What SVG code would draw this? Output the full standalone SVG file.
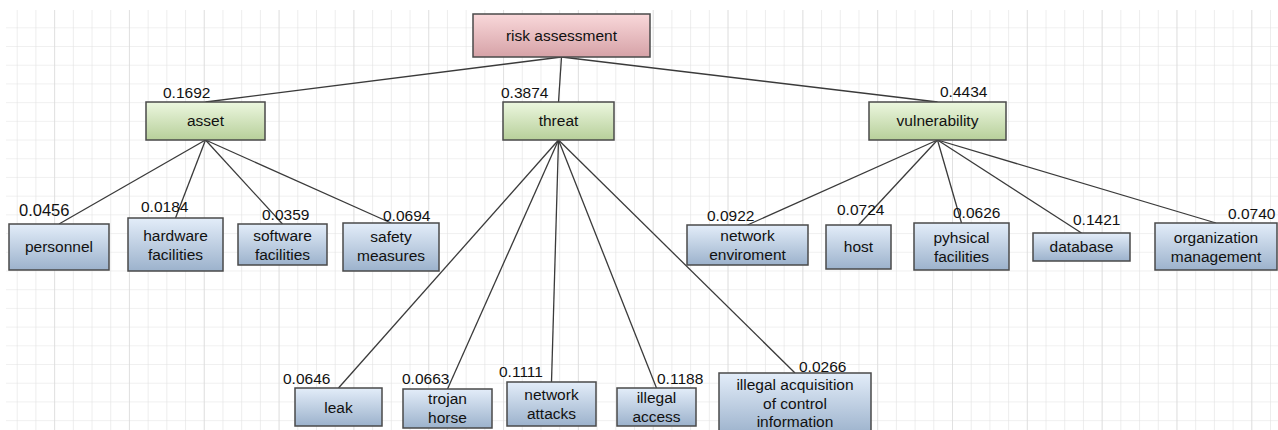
<svg xmlns="http://www.w3.org/2000/svg" width="1278" height="430" viewBox="0 0 1278 430">
<defs>
<pattern id="grid" patternUnits="userSpaceOnUse" x="-2" y="8.6" width="18.706" height="18.706">
<path d="M0 0V18.706M0 0H18.706" stroke="#e2e2e2" stroke-width="1.2" fill="none"/>
</pattern>
<pattern id="gridMajor" patternUnits="userSpaceOnUse" x="54.1" y="8.6" width="74.824" height="430">
<path d="M0 0V430" stroke="#d8d8d8" stroke-width="1.2" fill="none"/>
</pattern>
<linearGradient id="gPink" x1="0" y1="0" x2="0" y2="1">
<stop offset="0" stop-color="#f9d8da"/><stop offset="1" stop-color="#d6a2a7"/>
</linearGradient>
<linearGradient id="gGreen" x1="0" y1="0" x2="0" y2="1">
<stop offset="0" stop-color="#ecf7df"/><stop offset="1" stop-color="#b7cf9a"/>
</linearGradient>
<linearGradient id="gBlue" x1="0" y1="0" x2="0" y2="1">
<stop offset="0" stop-color="#e3edf9"/><stop offset="1" stop-color="#9cb2cc"/>
</linearGradient>
</defs>
<style>
.box{stroke:#4a4a4a;stroke-width:1.5}
.pink{fill:url(#gPink)}
.green{fill:url(#gGreen)}
.blue{fill:url(#gBlue)}
.lbl{font-family:"Liberation Sans",Arial,sans-serif;font-size:15.5px;fill:#111;text-anchor:middle}
.num{font-family:"Liberation Sans",Arial,sans-serif;font-size:15.5px;fill:#111}
.conn line{stroke:#3a3a3a;stroke-width:1.3}
</style>
<rect x="0" y="0" width="1278" height="430" fill="#ffffff"/>
<rect x="6" y="10" width="1272" height="420" fill="url(#grid)"/>
<rect x="6" y="10" width="1272" height="420" fill="url(#gridMajor)"/>

<g id="connectors" class="conn">
<line x1="561.5" y1="57" x2="205.5" y2="102"/>
<line x1="561.5" y1="57" x2="558.5" y2="102"/>
<line x1="561.5" y1="57" x2="937.5" y2="102"/>
<line x1="205.5" y1="140" x2="59" y2="224"/>
<line x1="205.5" y1="140" x2="175.5" y2="218"/>
<line x1="205.5" y1="140" x2="282.5" y2="224"/>
<line x1="205.5" y1="140" x2="391" y2="223"/>
<line x1="558.5" y1="140" x2="338.5" y2="388"/>
<line x1="558.5" y1="140" x2="447.5" y2="389"/>
<line x1="558.5" y1="140" x2="551.5" y2="382"/>
<line x1="558.5" y1="140" x2="656.5" y2="388"/>
<line x1="558.5" y1="140" x2="795" y2="373"/>
<line x1="937.5" y1="140" x2="747.5" y2="225"/>
<line x1="937.5" y1="140" x2="858.5" y2="225"/>
<line x1="937.5" y1="140" x2="961.5" y2="223"/>
<line x1="937.5" y1="140" x2="1081.5" y2="233"/>
<line x1="937.5" y1="140" x2="1216" y2="223"/>
</g>

<g id="risk-assessment">
<rect class="box pink" x="473" y="14" width="177" height="43"/>
<text class="lbl" x="561.5" y="41">risk assessment</text>
</g>

<g id="asset">
<rect class="box green" x="146" y="102" width="119" height="38"/>
<text class="lbl" x="205.5" y="126">asset</text>
<text class="num" x="163" y="98">0.1692</text>
</g>
<g id="threat">
<rect class="box green" x="503" y="102" width="111" height="38"/>
<text class="lbl" x="558.5" y="126">threat</text>
<text class="num" x="501" y="98">0.3874</text>
</g>
<g id="vulnerability">
<rect class="box green" x="869" y="102" width="137" height="38"/>
<text class="lbl" x="937.5" y="126">vulnerability</text>
<text class="num" x="940" y="97">0.4434</text>
</g>

<g id="personnel">
<rect class="box blue" x="9" y="224" width="100" height="46"/>
<text class="lbl" x="59" y="252">personnel</text>
<text class="num" x="19" y="216" style="font-size:16.5px">0.0456</text>
</g>
<g id="hardware-facilities">
<rect class="box blue" x="128" y="218" width="95" height="53"/>
<text class="lbl" x="175.5" y="241">hardware</text>
<text class="lbl" x="175.5" y="260">facilities</text>
<text class="num" x="141" y="211.5">0.0184</text>
</g>
<g id="software-facilities">
<rect class="box blue" x="238" y="224" width="89" height="41"/>
<text class="lbl" x="282.5" y="241">software</text>
<text class="lbl" x="282.5" y="260">facilities</text>
<text class="num" x="262" y="220">0.0359</text>
</g>
<g id="safety-measures">
<rect class="box blue" x="343" y="223" width="96" height="48"/>
<text class="lbl" x="391" y="242">safety</text>
<text class="lbl" x="391" y="261">measures</text>
<text class="num" x="383" y="221">0.0694</text>
</g>

<g id="leak">
<rect class="box blue" x="295" y="388" width="87" height="38"/>
<text class="lbl" x="338.5" y="412.5">leak</text>
<text class="num" x="283" y="384">0.0646</text>
</g>
<g id="trojan-horse">
<rect class="box blue" x="403" y="389" width="89" height="39"/>
<text class="lbl" x="447.5" y="403.5">trojan</text>
<text class="lbl" x="447.5" y="422.5">horse</text>
<text class="num" x="402" y="384">0.0663</text>
</g>
<g id="network-attacks">
<rect class="box blue" x="507" y="382" width="89" height="44"/>
<text class="lbl" x="551.5" y="399.5">network</text>
<text class="lbl" x="551.5" y="418.5">attacks</text>
<text class="num" x="499" y="377">0.1111</text>
</g>
<g id="illegal-access">
<rect class="box blue" x="617" y="388" width="79" height="38"/>
<text class="lbl" x="656.5" y="402.5">illegal</text>
<text class="lbl" x="656.5" y="421.5">access</text>
<text class="num" x="657" y="384">0.1188</text>
</g>
<g id="illegal-acquisition">
<rect class="box blue" x="719" y="373" width="152" height="62"/>
<text class="lbl" x="795" y="390">illegal acquisition</text>
<text class="lbl" x="795" y="408.5">of control</text>
<text class="lbl" x="795" y="427">information</text>
<text class="num" x="799" y="372">0.0266</text>
</g>

<g id="network-enviroment">
<rect class="box blue" x="687" y="225" width="121" height="40"/>
<text class="lbl" x="747.5" y="240.5">network</text>
<text class="lbl" x="747.5" y="259.5">enviroment</text>
<text class="num" x="707" y="221">0.0922</text>
</g>
<g id="host">
<rect class="box blue" x="826" y="225" width="65" height="44"/>
<text class="lbl" x="858.5" y="252">host</text>
<text class="num" x="837" y="215">0.0724</text>
</g>
<g id="pyhsical-facilities">
<rect class="box blue" x="914" y="223" width="95" height="47"/>
<text class="lbl" x="961.5" y="242.5">pyhsical</text>
<text class="lbl" x="961.5" y="261.5">facilities</text>
<text class="num" x="953" y="218">0.0626</text>
</g>
<g id="database">
<rect class="box blue" x="1033" y="233" width="97" height="28"/>
<text class="lbl" x="1081.5" y="252">database</text>
<text class="num" x="1073" y="225">0.1421</text>
</g>
<g id="organization-management">
<rect class="box blue" x="1155" y="223" width="122" height="47"/>
<text class="lbl" x="1216" y="242.5">organization</text>
<text class="lbl" x="1216" y="261.5">management</text>
<text class="num" x="1228" y="219">0.0740</text>
</g>
</svg>
